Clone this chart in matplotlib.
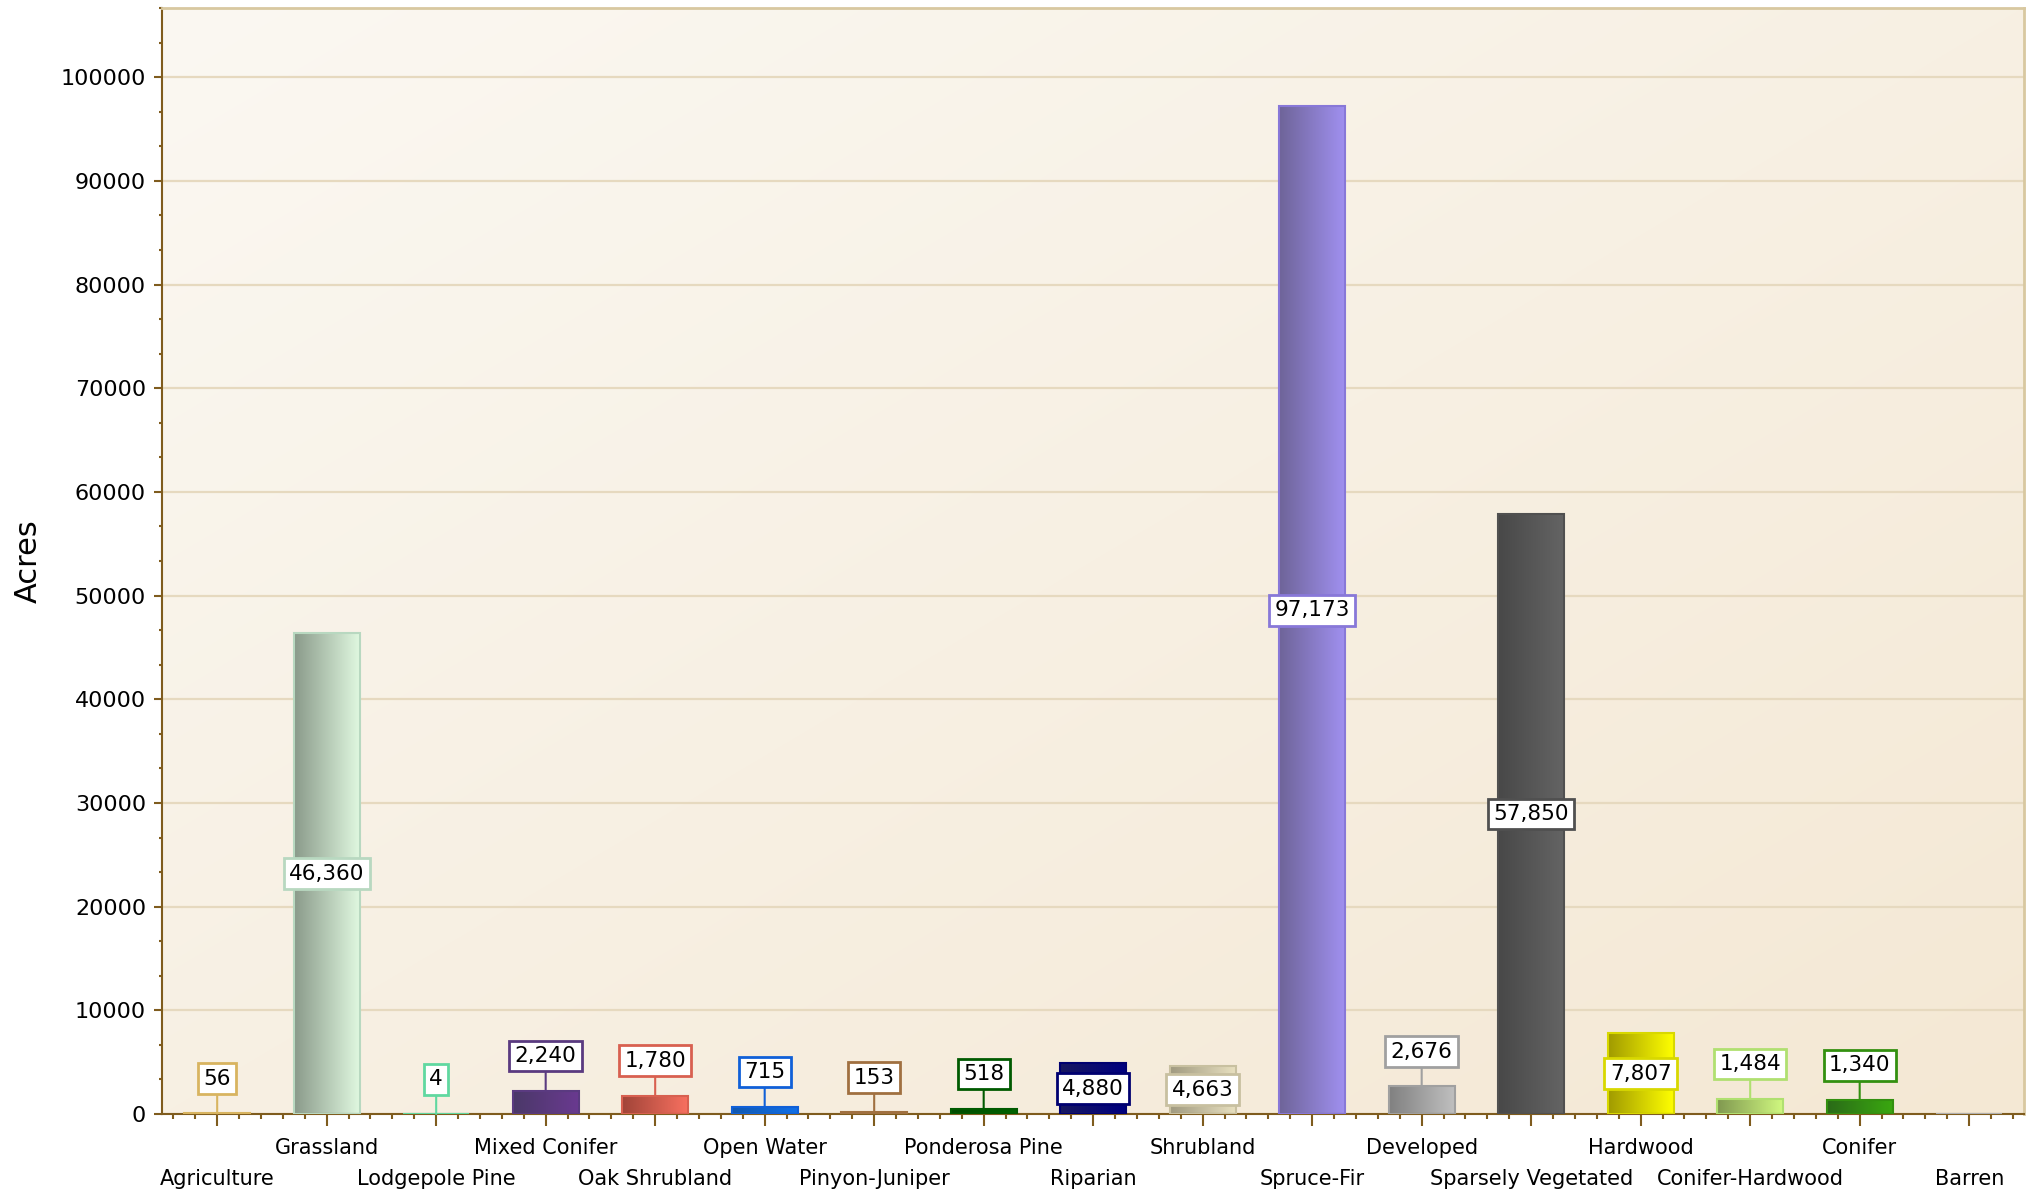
import numpy as np
import matplotlib
matplotlib.use('Agg')
import matplotlib.pyplot as plt
import matplotlib.ticker as mtick
from matplotlib.colors import to_rgb
from matplotlib.patches import Rectangle

# DATA
categories = ['Agriculture', 'Grassland', 'Lodgepole Pine', 'Mixed Conifer',
              'Oak Shrubland', 'Open Water', 'Pinyon-Juniper', 'Ponderosa Pine',
              'Riparian', 'Shrubland', 'Spruce-Fir', 'Developed',
              'Sparsely Vegetated', 'Hardwood', 'Conifer-Hardwood', 'Conifer',
              'Barren']
acres = [56, 46360, 4, 2240, 1780, 715, 153, 518, 4880, 4663, 97173, 2676,
         57850, 7807, 1484, 1340, 0]

# bar gradient (left dark -> right light) and outline / label colour
dark = ['#c89a3a', '#8a9a8a', '#40b080', '#4a3868', '#a04438', '#1058b0',
        '#805020', '#004c00', '#181860', '#a09a80', '#6e6498', '#808080',
        '#484848', '#a09a00', '#809850', '#2a6a18', '#b0b0b0']
light = ['#f0c060', '#e0f8e0', '#70e0b0', '#6a3a90', '#f87060', '#1070e8',
         '#a06830', '#006400', '#000080', '#e8e0c0', '#a090f0', '#c0c0c0',
         '#646464', '#ffff00', '#d0f880', '#3aa810', '#d0d0d0']
edge = ['#d8b460', '#b8d8c0', '#60d8a0', '#5a3a80', '#d86050', '#1060d8',
        '#a07040', '#005a00', '#000070', '#c8c0a0', '#8878d8', '#a0a0a0',
        '#505050', '#d8d800', '#b0e070', '#339010', '#b0b0b0']

brown = '#7f5c1e'

fig = plt.figure(figsize=(20.38, 11.93), dpi=100)
ax = fig.add_axes([0.0797, 0.0662, 0.9134, 0.9271])

# Background gradient
n = 200
gx, gy = np.meshgrid(np.linspace(0, 1, n), np.linspace(0, 1, n))
t = (gx + gy) / 2
c0 = np.array(to_rgb('#fbf8f2'))
c1 = np.array(to_rgb('#f4e8d4'))
bg = c0 * (1 - t[..., None]) + c1 * t[..., None]
ax.imshow(bg, extent=(0, 1, 0, 1), transform=ax.transAxes, aspect='auto',
          zorder=0, interpolation='bilinear')

width = 0.6
ramp = np.linspace(0, 1, 256)[None, :, None]
for i, v in enumerate(acres):
    x0 = i - width / 2
    if v > 0:
        img = np.array(to_rgb(dark[i])) * (1 - ramp) + np.array(to_rgb(light[i])) * ramp
        ax.imshow(img, extent=(x0, x0 + width, 0, v), aspect='auto',
                  zorder=2, interpolation='bilinear')
    ax.add_patch(Rectangle((x0, 0), width, v, facecolor='none',
                           edgecolor=edge[i], linewidth=1.5, zorder=3))

    # Value labels
    if v == 0:
        continue
    box = dict(boxstyle='square,pad=0.25', facecolor='white',
               edgecolor=edge[i], linewidth=2)
    if v > 4000:
        ax.text(i, v / 2, f'{v:,}', ha='center', va='center', fontsize=15.5,
                color='black', bbox=box, zorder=5)
    else:
        ax.annotate(f'{v:,}', xy=(i, v), xytext=(0, 25),
                    textcoords='offset points', ha='center', va='center',
                    fontsize=15.5, color='black', bbox=box, zorder=5,
                    arrowprops=dict(arrowstyle='-', color=edge[i], lw=1.5,
                                    shrinkA=0, shrinkB=0))

ax.set_xlim(-0.5, 16.5)
ax.set_ylim(0, 106667)

# Grid
ax.set_axisbelow(True)
ax.yaxis.grid(True, color='#e6d9bf', linewidth=1.6)
ax.xaxis.grid(False)

# Ticks: odd categories on the upper row, even ones on a lower row
ax.set_xticks(range(len(categories)))
ax.set_xticklabels(['' if k % 2 == 0 else c
                    for k, c in enumerate(categories)], fontsize=15)
for k, c in enumerate(categories):
    if k % 2 == 0:
        ax.annotate(c, xy=(k, 0), xycoords=('data', 'axes fraction'),
                    xytext=(0, -39.5), textcoords='offset points',
                    ha='center', va='top', fontsize=15)
ax.xaxis.set_minor_locator(mtick.MultipleLocator(0.2))
ax.yaxis.set_major_locator(mtick.MultipleLocator(10000))
ax.yaxis.set_minor_locator(mtick.MultipleLocator(10000 / 3))
ax.tick_params(axis='x', which='major', length=8.6, width=1.5, color=brown,
               pad=9)
ax.tick_params(axis='x', which='minor', length=3.6, width=1.5, color=brown)
ax.tick_params(axis='y', which='major', length=5.8, width=1.5, color=brown,
               labelsize=16, pad=6)
ax.tick_params(axis='y', which='minor', length=2.5, width=1.5, color=brown)

for s in ('left', 'bottom'):
    ax.spines[s].set_color(brown)
    ax.spines[s].set_linewidth(1.5)
for s in ('top', 'right'):
    ax.spines[s].set_color('#d8c8a0')
    ax.spines[s].set_linewidth(2)

ax.set_ylabel('Acres', fontsize=22, labelpad=13)

plt.savefig('out.png', dpi=100)
